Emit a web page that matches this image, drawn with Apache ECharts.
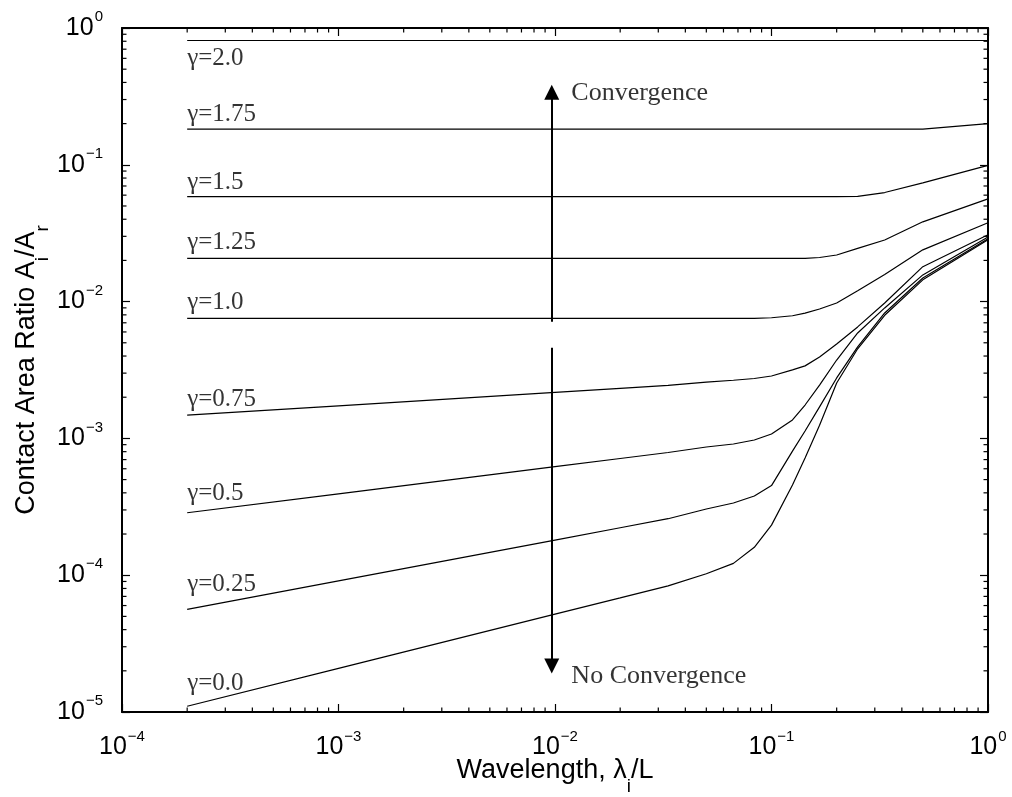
<!DOCTYPE html>
<html><head><meta charset="utf-8">
<script src="https://cdn.jsdelivr.net/npm/echarts@6/dist/echarts.min.js"></script>
<style>html,body{margin:0;padding:0;background:#fff}#c{width:1012px;height:797px}</style>
</head><body><div id="c"></div>
<script>
// ---- data ----
const wavelengths = [0.0002, 0.001, 0.01, 0.02, 0.0333, 0.05, 0.0667, 0.0833, 0.1, 0.125, 0.1429, 0.1667, 0.2, 0.25, 0.3333, 0.5, 1.0];
const gammaLabels = ['γ=2.0', 'γ=1.75', 'γ=1.5', 'γ=1.25', 'γ=1.0', 'γ=0.75', 'γ=0.5', 'γ=0.25', 'γ=0.0'];
const g200 = [0.81, 0.81, 0.81, 0.81, 0.81, 0.81, 0.81, 0.81, 0.81, 0.81, 0.81, 0.81, 0.81, 0.81, 0.81, 0.81, 0.81];
const g175 = [0.182, 0.182, 0.182, 0.182, 0.182, 0.182, 0.182, 0.182, 0.182, 0.182, 0.182, 0.182, 0.182, 0.182, 0.182, 0.182, 0.2];
const g150 = [0.0586, 0.0586, 0.0586, 0.0586, 0.0586, 0.0586, 0.0586, 0.0586, 0.0586, 0.0586, 0.0586, 0.0586, 0.0586, 0.0588, 0.0627, 0.0737, 0.099];
const g125 = [0.0207, 0.0207, 0.0207, 0.0207, 0.0207, 0.0207, 0.0207, 0.0207, 0.0207, 0.0207, 0.0207, 0.0210, 0.0219, 0.0245, 0.0282, 0.0383, 0.0564];
const g100 = [0.00755, 0.00755, 0.00755, 0.00755, 0.00755, 0.00755, 0.00755, 0.00755, 0.00762, 0.00788, 0.00824, 0.00883, 0.00977, 0.0120, 0.0158, 0.0239, 0.0377];
const g075 = [1.48e-3, 1.73e-3, 2.17e-3, 2.32e-3, 2.44e-3, 2.58e-3, 2.66e-3, 2.74e-3, 2.86e-3, 3.17e-3, 3.39e-3, 3.94e-3, 4.90e-3, 6.53e-3, 9.77e-3, 1.80e-2, 3.08e-2];
const g050 = [2.86e-4, 3.93e-4, 6.21e-4, 7.13e-4, 7.89e-4, 8.65e-4, 9.10e-4, 9.73e-4, 1.076e-3, 1.365e-3, 1.754e-3, 2.455e-3, 3.741e-3, 5.90e-3, 8.99e-3, 1.567e-2, 2.97e-2];
const g025 = [5.62e-5, 9.08e-5, 1.807e-4, 2.223e-4, 2.588e-4, 3.048e-4, 3.373e-4, 3.793e-4, 4.52e-4, 8.07e-4, 1.132e-3, 1.70e-3, 2.767e-3, 4.667e-3, 8.26e-3, 1.489e-2, 2.877e-2];
const g000 = [1.102e-5, 2.084e-5, 5.19e-5, 6.82e-5, 8.36e-5, 1.025e-4, 1.22e-4, 1.60e-4, 2.323e-4, 4.56e-4, 7.19e-4, 1.247e-3, 2.541e-3, 4.52e-3, 7.94e-3, 1.442e-2, 2.83e-2];
const curves = [g200, g175, g150, g125, g100, g075, g050, g025, g000];

const arrowUp = [[0.00966, 0.00713], [0.00966, 0.339]];
const arrowDown = [[0.00966, 0.00459], [0.00966, 2.17e-5]];
const notes = [[0.0119, 0.334, 'Convergence'], [0.0119, 1.83e-5, 'No Convergence']];

const xMin = 1e-4, xMax = 1, yMin = 1e-5, yMax = 1;
const xTitle = '{t|Wavelength, λ}{sub|i}{t|/L}';
const yTitle = '{t|Contact Area Ratio A}{sub|i}{t|/A}{sub|r}';

// ---- styling ----
const SANS = 'Liberation Sans, Arial, sans-serif';
const SERIF = 'Liberation Serif, Times New Roman, serif';
// pixel gap between each curve start and its gamma label (styling only)
const labelGap = [5, 2, 2, 3, 3, 3, 7, 12, 10];

function expLabel(v) {
  const e = Math.round(Math.log10(v));
  return '{b|10}{s|' + (e < 0 ? '\u2212' + (-e) : String(e)) + '}';
}
const tickRich = {
  b: {fontFamily: SANS, fontSize: 25, color: '#000', lineHeight: 25, verticalAlign: 'middle'},
  s: {fontFamily: SANS, fontSize: 15, color: '#000', lineHeight: 15, padding: [0, 0, 22, 1], verticalAlign: 'middle'}
};
const titleRich = {
  t: {fontFamily: SANS, fontSize: 27, color: '#000', lineHeight: 27, verticalAlign: 'middle'},
  sub: {fontFamily: SANS, fontSize: 19, color: '#000', lineHeight: 19, padding: [32, 0, 0, 0], verticalAlign: 'middle'}
};

// minor tick positions (2..9 x 10^k)
const minorData = [];
for (let e = -4; e < 0; e++) for (let k = 2; k <= 9; k++) minorData.push([k * Math.pow(10, e), 1, 0]);
for (let e = -5; e < 0; e++) for (let k = 2; k <= 9; k++) minorData.push([1, k * Math.pow(10, e), 1]);
const MAJOR = 8, MINOR = 4.5;

const axisCommonX = {
  type: 'log', logBase: 10, min: xMin, max: xMax,
  axisLine: {show: true, lineStyle: {color: '#000', width: 2}},
  axisTick: {show: true, inside: true, length: MAJOR, lineStyle: {color: '#000', width: 1.2}},
  splitLine: {show: false}, minorTick: {show: false}
};
const axisCommonY = {
  type: 'log', logBase: 10, min: yMin, max: yMax,
  axisLine: {show: true, lineStyle: {color: '#000', width: 2}},
  axisTick: {show: true, inside: true, length: MAJOR, lineStyle: {color: '#000', width: 1.2}},
  splitLine: {show: false}, minorTick: {show: false}
};

const series = curves.map((c, i) => ({
  name: gammaLabels[i], type: 'line', showSymbol: false, symbol: 'none',
  data: wavelengths.map((x, j) => [x, c[j]]),
  lineStyle: {color: '#000', width: 1.2}, silent: true, z: 3
}));

// gamma labels at the start of each curve
series.push({
  type: 'scatter', symbolSize: 0, silent: true, z: 5,
  data: curves.map((c, i) => ({
    value: [wavelengths[0], c[0]],
    label: {
      show: true, formatter: gammaLabels[i],
      position: i === 0 ? 'bottom' : 'top', distance: labelGap[i],
      align: 'left', fontFamily: SERIF, fontSize: 25, lineHeight: 25, color: '#000'
    }
  }))
});

// annotation texts
series.push({
  type: 'scatter', symbolSize: 0, silent: true, z: 5,
  data: notes.map(n => ({
    value: [n[0], n[1]],
    label: {show: true, formatter: n[2], position: 'right', distance: 0,
      fontFamily: SERIF, fontSize: 26, lineHeight: 26, color: '#000'}
  }))
});

// arrows
series.push({
  type: 'line', data: [], silent: true,
  markLine: {
    silent: true, animation: false, symbolSize: [15, 15], label: {show: false},
    lineStyle: {color: '#000', width: 2, type: 'solid'},
    emphasis: {disabled: true},
    data: [
      [{coord: arrowUp[0], symbol: 'none'}, {coord: arrowUp[1], symbol: 'triangle'}],
      [{coord: arrowDown[0], symbol: 'none'}, {coord: arrowDown[1], symbol: 'triangle'}]
    ]
  }
});

// minor ticks on all four sides
series.push({
  type: 'custom', silent: true, z: 6, clip: false,
  data: minorData, encode: {x: 0, y: 1},
  renderItem: function (params, api) {
    const cs = params.coordSys;
    const kind = api.value(2);
    const st = {stroke: '#000', lineWidth: 1.2};
    if (kind === 0) {
      const px = api.coord([api.value(0), yMax])[0];
      return {type: 'group', children: [
        {type: 'line', shape: {x1: px, y1: cs.y + cs.height, x2: px, y2: cs.y + cs.height - MINOR}, style: st},
        {type: 'line', shape: {x1: px, y1: cs.y, x2: px, y2: cs.y + MINOR}, style: st}
      ]};
    } else {
      const py = api.coord([xMax, api.value(1)])[1];
      return {type: 'group', children: [
        {type: 'line', shape: {x1: cs.x, y1: py, x2: cs.x + MINOR, y2: py}, style: st},
        {type: 'line', shape: {x1: cs.x + cs.width, y1: py, x2: cs.x + cs.width - MINOR, y2: py}, style: st}
      ]};
    }
  }
});

const option = {
  animation: false,
  backgroundColor: '#fff',
  grid: {left: 122, right: 24, top: 28, bottom: 85, containLabel: false, outerBoundsMode: 'none'},
  xAxis: [
    Object.assign({}, axisCommonX, {
      position: 'bottom',
      name: xTitle, nameLocation: 'middle', nameGap: 45, nameMoveOverlap: false,
      nameTextStyle: {rich: titleRich},
      axisLabel: {show: true, margin: 23, formatter: expLabel, rich: tickRich, showMinLabel: true, showMaxLabel: true}
    }),
    Object.assign({}, axisCommonX, {position: 'top', axisLabel: {show: false}})
  ],
  yAxis: [
    Object.assign({}, axisCommonY, {
      position: 'left',
      name: yTitle, nameLocation: 'middle', nameGap: 82, nameMoveOverlap: false,
      nameTextStyle: {rich: titleRich},
      axisLabel: {show: true, margin: 19, formatter: expLabel, rich: tickRich, showMinLabel: true, showMaxLabel: true}
    }),
    Object.assign({}, axisCommonY, {position: 'right', axisLabel: {show: false}})
  ],
  series: series
};

const chart = echarts.init(document.getElementById('c'), null, {renderer: 'canvas'});
chart.setOption(option);
</script>
</body></html>
